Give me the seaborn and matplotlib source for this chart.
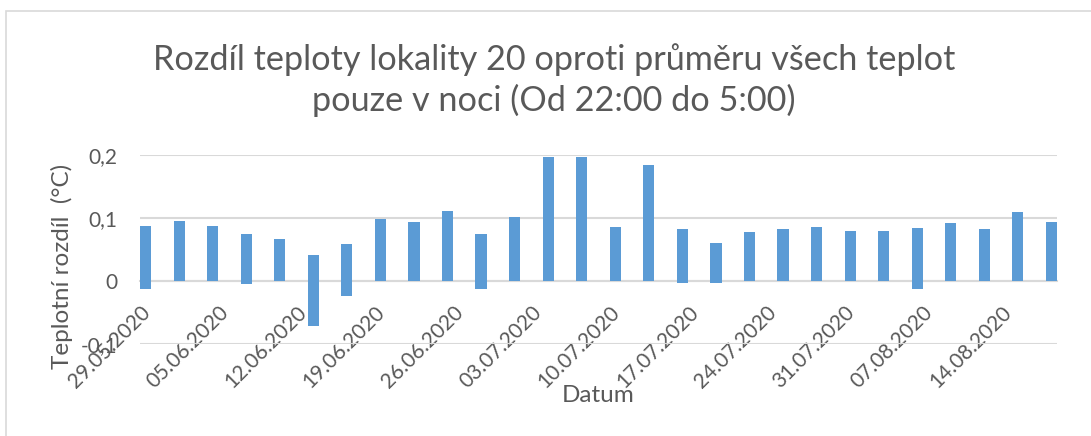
import pandas as pd
import numpy as np
import matplotlib
matplotlib.use('Agg')
import matplotlib.pyplot as plt
import matplotlib.dates as mdates
from matplotlib.patches import Rectangle
import seaborn as sns

# measurement nights (one bar every third night)
dates = ['29.05.2020', '01.06.2020', '04.06.2020', '07.06.2020', '10.06.2020',
         '13.06.2020', '16.06.2020', '19.06.2020', '22.06.2020', '25.06.2020',
         '28.06.2020', '01.07.2020', '04.07.2020', '07.07.2020', '10.07.2020',
         '13.07.2020', '16.07.2020', '19.07.2020', '22.07.2020', '25.07.2020',
         '28.07.2020', '31.07.2020', '03.08.2020', '06.08.2020', '09.08.2020',
         '12.08.2020', '15.08.2020', '18.08.2020']

# largest positive and negative difference in each night (°C)
diff_max = [0.088, 0.096, 0.087, 0.075, 0.067, 0.042, 0.059, 0.099, 0.093, 0.111,
            0.074, 0.101, 0.197, 0.197, 0.085, 0.184, 0.083, 0.061, 0.077, 0.083,
            0.086, 0.080, 0.080, 0.084, 0.092, 0.083, 0.110, 0.094]
diff_min = [-0.012, 0.0, 0.0, -0.004, 0.0, -0.072, -0.024, 0.0, 0.0, 0.0,
            -0.012, 0.0, 0.0, 0.0, 0.0, 0.0, -0.003, -0.003, 0.0, 0.0,
            0.0, 0.0, 0.0, -0.013, 0.0, 0.0, 0.0, 0.0]

tick_dates = ['29.05.2020', '05.06.2020', '12.06.2020', '19.06.2020', '26.06.2020',
              '03.07.2020', '10.07.2020', '17.07.2020', '24.07.2020', '31.07.2020',
              '07.08.2020', '14.08.2020']
axis_end = '19.08.2020'

y_ticks = [-0.1, 0.0, 0.1, 0.2]
y_labels = ['-0,1', '0', '0,1', '0,2']

title = 'Rozdíl teploty lokality 20 oproti průměru všech teplot\npouze v noci (Od 22:00 do 5:00)'

BAR = '#5b9bd5'
GRID = '#d9d9d9'
TEXT = '#595959'

sns.set_style('white')
plt.rcParams['font.family'] = ['Lato', 'DejaVu Sans']

df = pd.DataFrame({
    'date': pd.to_datetime(dates, format='%d.%m.%Y'),
    'max': diff_max,
    'min': diff_min,
})
# Excel date axis puts each day's column in the middle of its day
df['x'] = mdates.date2num(df['date']) + 0.5

fig = plt.figure(figsize=(10.91, 4.36), dpi=100)
ax = fig.add_axes([140 / 1091, 1 - 344 / 436, 917 / 1091, 189 / 436])

for col in ['max', 'min']:
    sns.barplot(data=df, x='x', y=col, native_scale=True, width=1 / 3,
                color=BAR, saturation=1, errorbar=None, linewidth=0, ax=ax, zorder=3)

# x axis crosses at zero (set before tick labels, it resets the ticks)
for s in ['top', 'right', 'left']:
    ax.spines[s].set_visible(False)
ax.spines['bottom'].set_position(('data', 0))
ax.spines['bottom'].set_color(GRID)
ax.spines['bottom'].set_linewidth(1.5)
ax.spines['bottom'].set_zorder(2)

tick_num = mdates.date2num(pd.to_datetime(tick_dates, format='%d.%m.%Y'))
ax.set_xlim(tick_num[0], mdates.date2num(pd.to_datetime(axis_end, format='%d.%m.%Y')))
ax.set_ylim(y_ticks[0], y_ticks[-1])
ax.set_xticks(tick_num)
ax.set_xticklabels(tick_dates, rotation=45, ha='right', va='top',
                   rotation_mode='anchor', fontsize=15, color=TEXT)
ax.set_yticks(y_ticks)
ax.set_yticklabels(y_labels, fontsize=15, color=TEXT)

ax.tick_params(axis='x', length=5, width=1.5, color=GRID, pad=10, direction='out')
ax.tick_params(axis='y', length=0, pad=16)
ax.yaxis.grid(True, color=GRID, linewidth=1.5, zorder=0)
ax.xaxis.grid(False)
ax.set_axisbelow(True)

ax.set_xlabel('Datum', fontsize=17.5, color=TEXT)
ax.xaxis.set_label_coords(0.5, -0.215)
ax.set_ylabel('Teplotní rozdíl  (°C)', fontsize=17.5, color=TEXT)
ax.yaxis.set_label_coords(-0.073, 0.41)

fig.text(554 / 1091, 1 - 80 / 436, title, ha='center', va='center',
         fontsize=24.7, color=TEXT, linespacing=1.28)

# chart area border as in Excel
fig.patches.append(Rectangle((6 / 1091, -0.2), 1.2, 1 - 11 / 436 + 0.2,
                             transform=fig.transFigure, fill=False,
                             edgecolor=GRID, linewidth=1.2))

fig.savefig('out.png', dpi=100)
